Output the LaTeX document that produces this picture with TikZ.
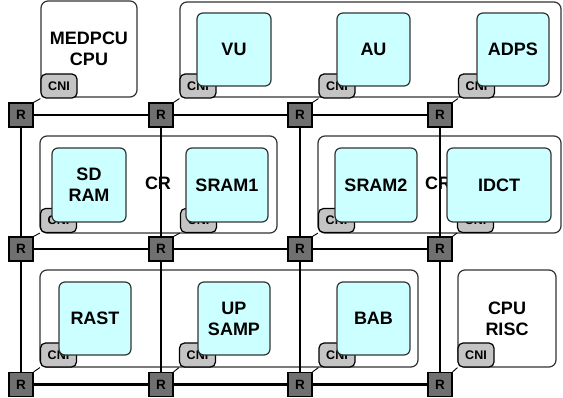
\documentclass[tikz,border=0pt]{standalone}
\usepackage{fontspec}
\setmainfont{Liberation Sans}
\usetikzlibrary{positioning}
\definecolor{corefill}{HTML}{CCFFFF}
\definecolor{cnifill}{HTML}{C4C4C4}
\definecolor{rtfill}{HTML}{707070}
\definecolor{edge}{HTML}{333333}

\begin{document}
\begin{tikzpicture}[x=1pt,y=-1pt,
  blk/.style={draw=edge,line width=1.2pt,fill=white,rounded corners=7pt,inner sep=0pt},
  core/.style={draw=edge,line width=1.2pt,fill=corefill,rounded corners=6pt,inner sep=0pt,
    minimum height=73pt,align=center,font=\fontsize{18}{21}\selectfont\bfseries},
  cni/.style={draw=black,line width=1.2pt,fill=cnifill,rounded corners=5pt,inner sep=0pt,
    minimum width=36pt,minimum height=24pt,font=\fontsize{12.5}{12}\selectfont\bfseries},
  rt/.style={draw=black,line width=1.2pt,fill=rtfill,inner sep=0pt,
    minimum size=24pt,font=\fontsize{13.5}{12}\selectfont\bfseries},
  lab/.style={font=\fontsize{18}{21}\selectfont\bfseries,inner sep=0pt},
  grid/.style={line width=2.4pt},
  link/.style={line width=0.9pt}]
\useasboundingbox (0,0) rectangle (563,398);
% cluster boxes
\node[blk,minimum width=96pt,minimum height=96pt,align=center,
  font=\fontsize{18}{21}\selectfont\bfseries] (medp) at (89,49) {MEDPCU\\CPU};
\node[blk,minimum width=381pt,minimum height=95pt] (topbox) at (370.5,49.5) {};
\node[blk,minimum width=237pt,minimum height=97pt] (crl) at (158.5,184.5) {};
\node[blk,minimum width=243pt,minimum height=97pt] (crr) at (439.5,184.5) {};
\node[blk,minimum width=378pt,minimum height=97pt] (botbox) at (229,318.5) {};
\node[blk,minimum width=98pt,minimum height=97pt,align=center,
  font=\fontsize{18}{21}\selectfont\bfseries] (risc) at (507,318.5) {CPU\\RISC};
\node[lab] (crla) at (158,183) {CR};
\node[lab] (crra) at (438,183) {CR};
% network interfaces
\node[cni] (c11) at (59,86) {CNI};
\node[cni] (c12) at (198,86) {CNI};
\node[cni] (c13) at (337,86) {CNI};
\node[cni] (c14) at (476.5,86) {CNI};
\node[cni] (c21) at (58.5,220.5) {CNI};
\node[cni] (c22) at (198.5,220.5) {CNI};
\node[cni] (c23) at (336.5,220.5) {CNI};
\node[cni] (c24) at (475.5,220.5) {CNI};
\node[cni] (c31) at (58.5,355) {CNI};
\node[cni] (c32) at (197.5,355) {CNI};
\node[cni] (c33) at (337,355) {CNI};
\node[cni] (c34) at (476,355) {CNI};
% cores
\node[core,minimum width=74pt] (vu) at (234,49.5) {VU};
\node[core,minimum width=73pt] (au) at (373.5,49.5) {AU};
\node[core,minimum width=72pt] (adps) at (513,49.5) {ADPS};
\node[core,minimum width=74pt,minimum height=74pt] (sdram) at (89,185) {SD\\RAM};
\node[core,minimum width=82pt,minimum height=74pt] (sram1) at (227,185) {SRAM1};
\node[core,minimum width=82pt,minimum height=74pt] (sram2) at (376,185) {SRAM2};
\node[core,minimum width=104pt,minimum height=74pt] (idct) at (499,185) {IDCT};
\node[core,minimum width=72pt] (rast) at (95,318.5) {RAST};
\node[core,minimum width=72pt] (upsamp) at (234,318.5) {UP\\SAMP};
\node[core,minimum width=73pt] (bab) at (373.5,318.5) {BAB};
% routers
\node[rt] (r11) at (21,115) {R};
\node[rt] (r12) at (161,115) {R};
\node[rt] (r13) at (300,115) {R};
\node[rt] (r14) at (440,115) {R};
\node[rt] (r21) at (21,249) {R};
\node[rt] (r22) at (161,249) {R};
\node[rt] (r23) at (300,249) {R};
\node[rt] (r24) at (440,249) {R};
\node[rt] (r31) at (21,384.5) {R};
\node[rt] (r32) at (161,384.5) {R};
\node[rt] (r33) at (300,384.5) {R};
\node[rt] (r34) at (440,384.5) {R};
% mesh
\draw[grid] (r11)--(r12)--(r13)--(r14);
\draw[grid] (r21)--(r22)--(r23)--(r24);
\draw[grid] (r31)--(r32)--(r33)--(r34);
\draw[grid] (r11)--(r21)--(r31);
\draw[grid] (r12)--(r22)--(r32);
\draw[grid] (r13)--(r23)--(r33);
\draw[grid] (r14)--(r24)--(r34);
% interface links
\draw[link] (c11.south west)--(r11.north east);
\draw[link] (c12.south west)--(r12.north east);
\draw[link] (c13.south west)--(r13.north east);
\draw[link] (c14.south west)--(r14.north east);
\draw[link] (c21.south west)--(r21.north east);
\draw[link] (c22.south west)--(r22.north east);
\draw[link] (c23.south west)--(r23.north east);
\draw[link] (c24.south west)--(r24.north east);
\draw[link] (c31.south west)--(r31.north east);
\draw[link] (c32.south west)--(r32.north east);
\draw[link] (c33.south west)--(r33.north east);
\draw[link] (c34.south west)--(r34.north east);
\end{tikzpicture}
\end{document}
